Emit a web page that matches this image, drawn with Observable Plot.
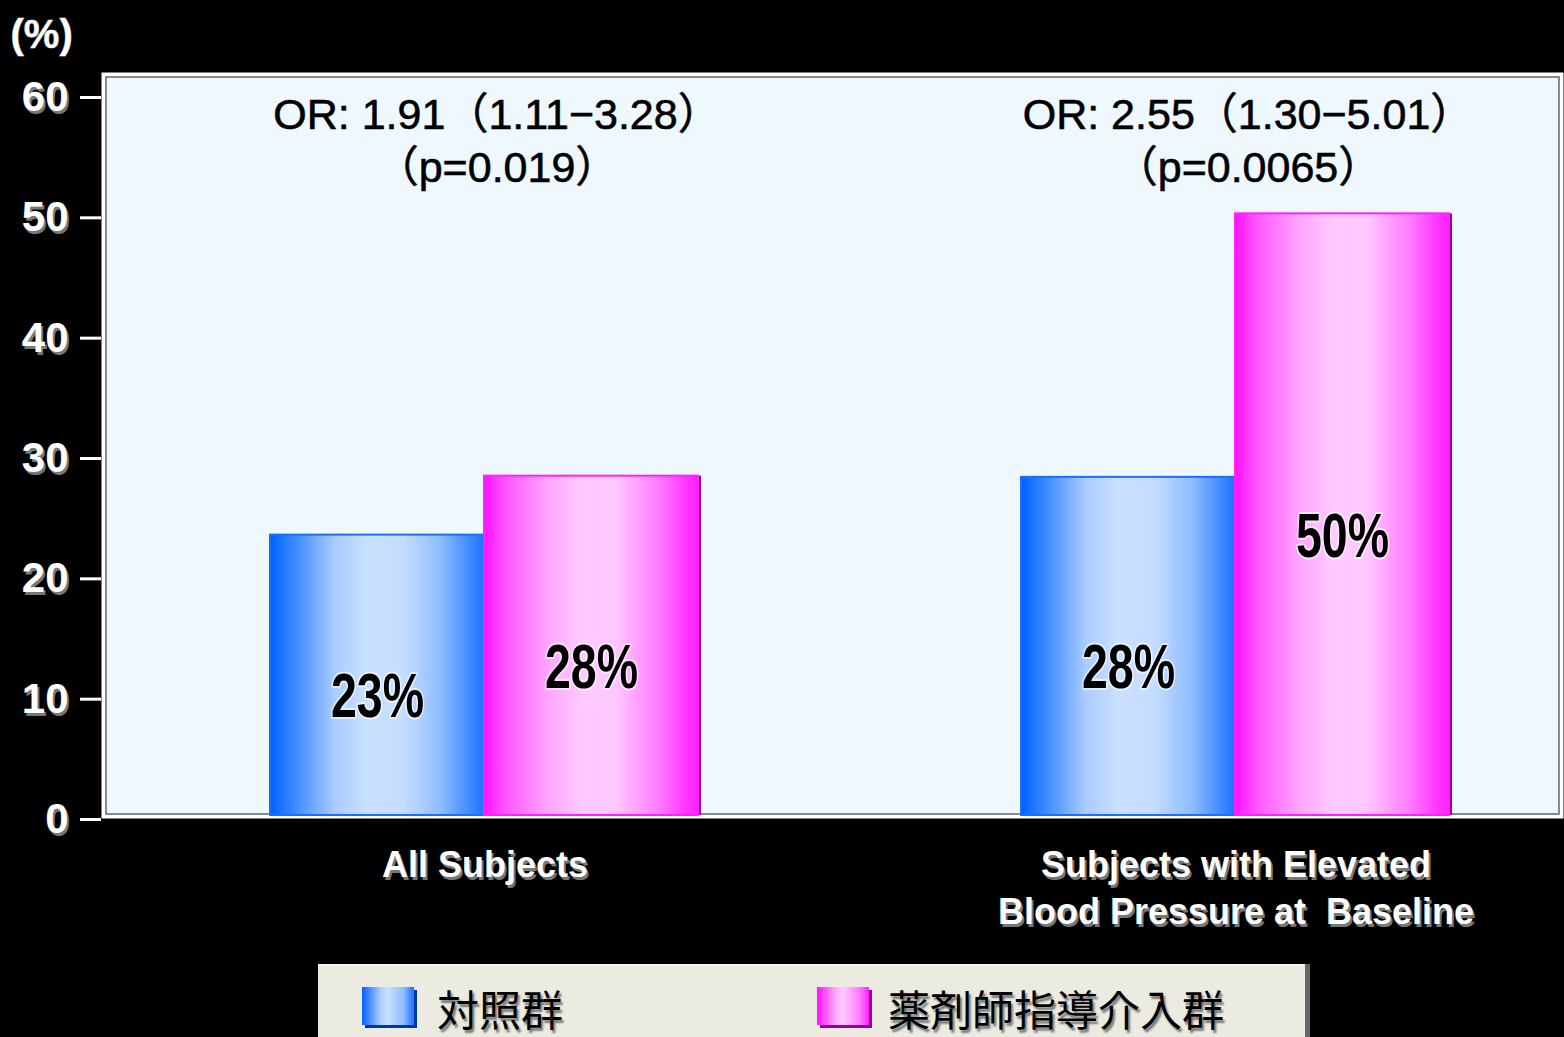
<!DOCTYPE html>
<html><head><meta charset="utf-8">
<script src="https://cdn.jsdelivr.net/npm/d3@7"></script>
<script src="https://cdn.jsdelivr.net/npm/@observablehq/plot@0.6"></script>
<style>
body{margin:0;background:#000;width:1564px;height:1037px;overflow:hidden;position:relative}
#chart svg{display:block}
#legend{position:absolute;left:318px;top:964px;width:987px;height:90px;background:#ecebe1;box-shadow:5px 0 0 #666;border-top:2px solid #f6f6f0}
.sw{position:absolute;top:21px;width:52px;height:38px}
.lt{position:absolute;top:12px;font:42px "Noto Sans CJK JP",sans-serif;color:#000;text-shadow:2px 3px 2px #777;line-height:60px}
</style></head>
<body><div id="chart"></div><div id="legend"></div>
<script>
const groups = ["All Subjects", "Subjects with Elevated\nBlood Pressure at  Baseline"];
const series = ["対照群", "薬剤師指導介入群"];
const controlValues = [23.3, 28.1];
const interventionValues = [28.2, 50.0];
const controlLabels = ["23%", "28%"];
const interventionLabels = ["28%", "50%"];
const orLabels = ["OR: 1.91（1.11−3.28）", "OR: 2.55（1.30−5.01）"];
const pLabels = ["（p=0.019）", "（p=0.0065）"];
const yTicks = [0, 10, 20, 30, 40, 50, 60];
const yUnit = "(%)";

const data = groups.flatMap((g, i) => [
  {group: g, series: series[0], value: controlValues[i], label: controlLabels[i]},
  {group: g, series: series[1], value: interventionValues[i], label: interventionLabels[i]}
]);
const notes = groups.map((g, i) => ({group: g, or: orLabels[i], p: pLabels[i]}));
const ctrl = data.filter(d => d.series === series[0]);
const intv = data.filter(d => d.series === series[1]);

function gradientDefs() {
  const defs = d3.create("svg:defs");
  const mk = (id, stops) => {
    const g = defs.append("linearGradient").attr("id", id).attr("x1", 0).attr("x2", 1).attr("y1", 0).attr("y2", 0);
    stops.forEach(([o, c]) => g.append("stop").attr("offset", o).attr("stop-color", c));
  };
  mk("gBlue", [[0, "#0060ff"], [0.12, "#3d8bff"], [0.3, "#a9cbff"], [0.45, "#c9e0ff"], [0.62, "#c6ddff"], [0.8, "#8dbcff"], [1, "#1a72ff"]]);
  mk("gPink", [[0, "#ff10ff"], [0.1, "#ff55ff"], [0.3, "#ffa6ff"], [0.47, "#ffccff"], [0.62, "#ffc6ff"], [0.82, "#ff7aff"], [0.95, "#ff33ff"], [1, "#ff22ff"]]);
  return defs.node();
}

const W = 1564, H = 964;
const sans = "'Liberation Sans','Noto Sans CJK JP',Arial,sans-serif";
const bold = "'Liberation Sans',Arial,sans-serif";

const chart = Plot.plot({
  width: W, height: H,
  marginLeft: 101, marginRight: 0, marginTop: 72, marginBottom: H - 818,
  style: {background: "#000", overflow: "visible"},
  fx: {domain: groups, paddingInner: 0.053, paddingOuter: 0, label: null},
  x: {domain: series, padding: 0, insetLeft: 169, insetRight: 114, axis: null},
  y: {domain: [0, 60], insetTop: 21, insetBottom: 3, label: null},
  marks: [
    gradientDefs,
    Plot.frame({fill: "#f0f8ff", stroke: "#fff", strokeWidth: 4, inset: 2, facet: "super"}),
    Plot.frame({stroke: "#666", strokeWidth: 1.5, inset: 4.5, facet: "super"}),
    Plot.barY(intv, {x: "series", fx: "group", y: "value", fill: "#990099", dx: 3}),
    Plot.barY(ctrl, {x: "series", fx: "group", y: "value", fill: "url(#gBlue)", stroke: "#1a6fff", strokeWidth: 2}),
    Plot.barY(intv, {x: "series", fx: "group", y: "value", fill: "url(#gPink)", stroke: "#ff22ff", strokeWidth: 2}),
    Plot.text(data, {x: "series", fx: "group", y: d => d.value / 2, text: "label", dy: 22, ariaDescription: "value-label",
      fontSize: 62, fontWeight: "bold", fontFamily: bold, fill: "#000", stroke: "#fff", strokeWidth: 4, strokeOpacity: 0.6}),
    Plot.text(notes, {fx: "group", text: "or", frameAnchor: "top", lineAnchor: "middle", dx: 40, dy: 43,
      fontSize: 43, fontFamily: sans, fill: "#000", stroke: "#000", strokeWidth: 0.6}),
    Plot.text(notes, {fx: "group", text: "p", frameAnchor: "top", lineAnchor: "middle", dx: 40, dy: 96,
      fontSize: 43, fontFamily: sans, fill: "#000", stroke: "#000", strokeWidth: 0.6}),
    Plot.axisY({ticks: yTicks, tickSize: 21, tickPadding: 12, dx: 2, dy: 7, stroke: "none", fill: "#777", fontSize: 42, fontWeight: "bold", fontFamily: bold, label: null}),
    Plot.axisY({ticks: yTicks, tickSize: 21, tickPadding: 12, dy: 4, stroke: "#fff", strokeWidth: 3, fill: "#fff", fontSize: 42, fontWeight: "bold", fontFamily: bold, label: null}),
    Plot.axisFx({anchor: "bottom", tickSize: 0, tickPadding: 25, dx: 30, dy: 3, fill: "#777", fontSize: 36, fontWeight: "bold", fontFamily: bold, lineHeight: 1.3, label: null}),
    Plot.axisFx({anchor: "bottom", tickSize: 0, tickPadding: 25, dx: 28, fill: "#fff", fontSize: 36, fontWeight: "bold", fontFamily: bold, lineHeight: 1.3, label: null}),
    Plot.text([yUnit], {text: d => d, frameAnchor: "top-left", textAnchor: "start", lineAnchor: "middle", dx: -91, dy: -37, fill: "#fff", stroke: "#888", strokeWidth: 1, fontSize: 40, fontWeight: "bold", fontFamily: bold, facet: "super"})
  ]
});
document.getElementById("chart").appendChild(chart);

// condense the bar value labels horizontally (the reference uses a narrow bold face)
d3.select(chart).selectAll('g[aria-description="value-label"] text').each(function () {
  const t = this.getAttribute("transform");
  if (t) this.setAttribute("transform", t + " scale(0.75,1)");
  else {
    const x = +this.getAttribute("x") || 0, y = +this.getAttribute("y") || 0;
    this.removeAttribute("x"); this.removeAttribute("y");
    this.setAttribute("transform", `translate(${x},${y}) scale(0.75,1)`);
  }
});

const legend = d3.select("#legend");
const swatch = [
  {bg: "linear-gradient(90deg,#0060ff,#a9cbff 35%,#c9e0ff 50%,#8dbcff 80%,#1a72ff)", sh: "#0038a8", x: 44},
  {bg: "linear-gradient(90deg,#ff10ff,#ffa6ff 35%,#ffccff 50%,#ff7aff 82%,#ff22ff)", sh: "#990099", x: 499}
];
const textX = [119, 570];
series.forEach((s, i) => {
  legend.append("div").attr("class", "sw").style("left", swatch[i].x + "px").style("background", swatch[i].bg).style("box-shadow", `3px 3px 0 ${swatch[i].sh}`);
  legend.append("div").attr("class", "lt").style("left", textX[i] + "px").text(s);
});
</script>
</body></html>
